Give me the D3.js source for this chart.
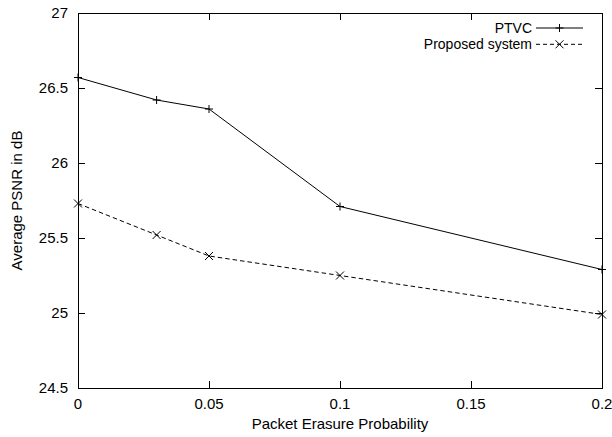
<!DOCTYPE html>
<html>
<head>
<meta charset="utf-8">
<script src="https://cdn.jsdelivr.net/npm/d3@7"></script>
<style>
  body { margin: 0; background: #fff; }
  svg text { font-family: "Liberation Sans", Arial, sans-serif; font-size: 15px; fill: #000; }
  svg text.legend { font-size: 14px; }
</style>
</head>
<body>
<div id="chart"></div>
<script>
const probabilities = [0, 0.03, 0.05, 0.1, 0.2];
const ptvc = [26.57, 26.42, 26.36, 25.71, 25.29];
const proposed = [25.73, 25.52, 25.38, 25.25, 24.99];
const xTicks = [0, 0.05, 0.1, 0.15, 0.2];
const yTicks = [24.5, 25, 25.5, 26, 26.5, 27];

(() => {
  const width = 612, height = 437;
  const margin = { top: 13, right: 10, bottom: 49, left: 78 };
  const svg = d3.select("#chart").append("svg").attr("width", width).attr("height", height);

  const x = d3.scaleLinear().domain([0, 0.2]).range([margin.left, width - margin.right]);
  const y = d3.scaleLinear().domain([24.5, 27]).range([height - margin.bottom, margin.top]);
  const tick = 7;

  // inward ticks on all four sides
  const g = svg.append("g").attr("stroke", "#000").attr("stroke-width", 1).attr("shape-rendering", "crispEdges");
  xTicks.forEach((t) => {
    g.append("line").attr("x1", x(t)).attr("x2", x(t)).attr("y1", y.range()[0]).attr("y2", y.range()[0] - tick);
    g.append("line").attr("x1", x(t)).attr("x2", x(t)).attr("y1", y.range()[1]).attr("y2", y.range()[1] + tick);
  });
  yTicks.forEach((t) => {
    g.append("line").attr("x1", x.range()[0]).attr("x2", x.range()[0] + tick).attr("y1", y(t)).attr("y2", y(t));
    g.append("line").attr("x1", x.range()[1]).attr("x2", x.range()[1] - tick).attr("y1", y(t)).attr("y2", y(t));
  });

  svg.selectAll(".xl").data(xTicks).enter().append("text")
    .attr("x", (d) => x(d)).attr("y", y.range()[0] + 21).attr("text-anchor", "middle")
    .text((d) => d);
  svg.selectAll(".yl").data(yTicks).enter().append("text")
    .attr("x", x.range()[0] - 10).attr("y", (d) => y(d) + 5.3).attr("text-anchor", "end")
    .text((d) => d);

  svg.append("text").attr("x", (x.range()[0] + x.range()[1]) / 2).attr("y", 429)
    .attr("text-anchor", "middle").text("Packet Erasure Probability");
  svg.append("text").attr("transform", `translate(22,${(y.range()[0] + y.range()[1]) / 2}) rotate(-90)`)
    .attr("text-anchor", "middle").text("Average PSNR in dB");

  const line = d3.line().x((d) => x(d[0])).y((d) => y(d[1]));
  const series = [
    { name: "PTVC", values: ptvc, dash: null, marker: "plus" },
    { name: "Proposed system", values: proposed, dash: "4.5,3", marker: "cross" },
  ];

  function marker(sel, type, cx, cy) {
    const s = 4;
    const p = type === "plus"
      ? `M${cx - s},${cy}H${cx + s}M${cx},${cy - s}V${cy + s}`
      : `M${cx - s},${cy - s}L${cx + s},${cy + s}M${cx - s},${cy + s}L${cx + s},${cy - s}`;
    sel.append("path").attr("d", p).attr("stroke", "#000").attr("fill", "none");
  }

  series.forEach((s, i) => {
    const pts = probabilities.map((p, j) => [p, s.values[j]]);
    svg.append("path").attr("d", line(pts)).attr("fill", "none").attr("stroke", "#000")
      .attr("stroke-width", 1).attr("stroke-dasharray", s.dash);
    pts.forEach((d) => marker(svg, s.marker, x(d[0]), y(d[1])));

    const ly = 28 + i * 16.3;
    svg.append("text").attr("class", "legend").attr("x", 532).attr("y", ly + 5)
      .attr("text-anchor", "end").text(s.name);
    svg.append("line").attr("x1", 536).attr("x2", 583).attr("y1", ly).attr("y2", ly)
      .attr("stroke", "#000").attr("stroke-dasharray", s.dash ? "4,3" : null);
    marker(svg, s.marker, 559.5, ly);
  });

  svg.append("rect").attr("x", x.range()[0]).attr("y", y.range()[1])
    .attr("width", x.range()[1] - x.range()[0]).attr("height", y.range()[0] - y.range()[1])
    .attr("fill", "none").attr("stroke", "#000").attr("shape-rendering", "crispEdges");
})();
</script>
</body>
</html>
